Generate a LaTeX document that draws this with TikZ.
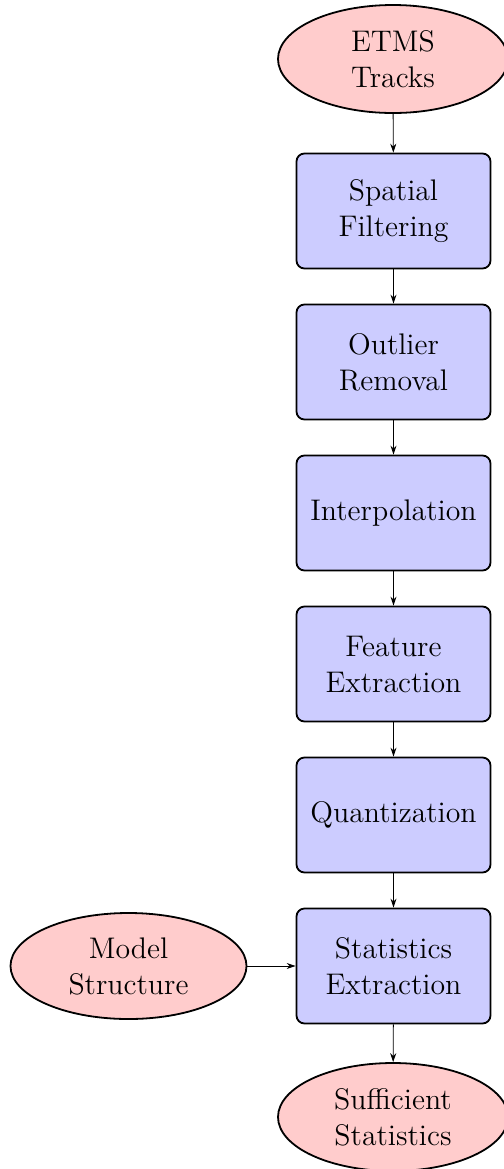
\documentclass[tikz,border=0pt]{standalone}
\usetikzlibrary{shapes.geometric,arrows.meta}
\begin{document}
\begin{tikzpicture}[x=1pt,y=1pt,
  every node/.style={font=\fontsize{14.9}{18}\selectfont, align=center, inner sep=0pt},
  term/.style={ellipse, draw, line width=0.9pt, fill=red!20, minimum width=115pt, minimum height=54pt},
  proc/.style={rectangle, rounded corners=4pt, draw, line width=0.9pt, fill=blue!20, minimum width=97pt, minimum height=57.5pt},
  conn/.style={-{Stealth[length=4.5pt,width=3pt]}, line width=0.45pt}]
\useasboundingbox (0,0) rectangle (252,-584.5);
\node[term] (etms) at (196.5,-29.5) {ETMS\\Tracks};
\node[proc] (spat) at (196.75,-105.5) {Spatial\\Filtering};
\node[proc] (outl) at (196.75,-181) {Outlier\\Removal};
\node[proc] (interp) at (196.75,-256.5) {Interpolation};
\node[proc] (feat) at (196.75,-332) {Feature\\Extraction};
\node[proc] (quant) at (196.75,-407.5) {Quantization};
\node[proc] (stat) at (196.75,-483) {Statistics\\Extraction};
\node[term] (suff) at (196.5,-558.5) {Sufficient\\Statistics};
\node[term, minimum width=118pt, minimum height=53pt] (model) at (64.25,-483) {Model\\Structure};
\draw[conn] (etms) -- (spat);
\draw[conn] (spat) -- (outl);
\draw[conn] (outl) -- (interp);
\draw[conn] (interp) -- (feat);
\draw[conn] (feat) -- (quant);
\draw[conn] (quant) -- (stat);
\draw[conn] (stat) -- (suff);
\draw[conn] (model) -- (stat);
\end{tikzpicture}
\end{document}
